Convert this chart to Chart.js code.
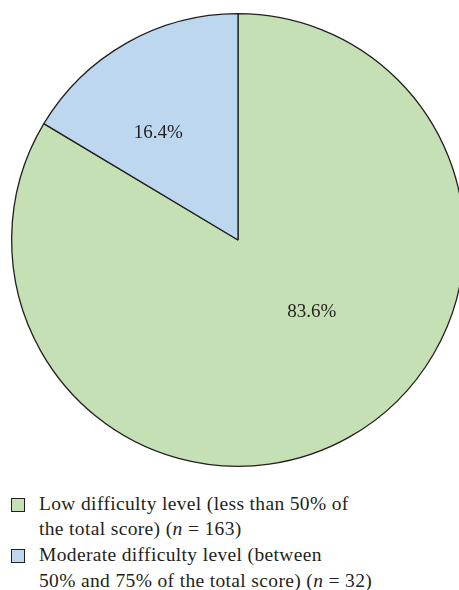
<!DOCTYPE html>
<html>
<head>
<meta charset="utf-8">
<script src="https://cdn.jsdelivr.net/npm/chart.js@4/dist/chart.umd.min.js"></script>
<style>
  html, body { margin: 0; padding: 0; background: #fff; overflow: hidden; width: 459px; height: 590px; }
  #wrap { position: absolute; left: 0; top: 0; width: 476px; height: 480px; }
  #legend { position: absolute; left: 11px; top: 490.5px; font-family: "Liberation Serif", "DejaVu Serif", serif; font-size: 19.5px; letter-spacing: 0.35px; line-height: 25.7px; color: #231f20; }
  .item { position: relative; padding-left: 28px; white-space: pre-line; }
  .box { position: absolute; left: 0; top: 7.5px; width: 12px; height: 12px; border: 1px solid #231f20; }
</style>
</head>
<body>
<div id="wrap"><canvas id="c"></canvas></div>
<div id="legend"></div>
<script>
const categories = [
  "Low difficulty level (less than 50% of\nthe total score)",
  "Moderate difficulty level (between\n50% and 75% of the total score)"
];
const counts = [163, 32];
const percentLabels = ["83.6%", "16.4%"];
const colors = ["#c5e0b4", "#bdd7ee"];

// label placement as fraction of the outer radius (style, not data)
const labelOffsets = [[0.326, 0.315], [-0.352, -0.476]];

const sliceLabels = {
  id: 'sliceLabels',
  afterDatasetsDraw(chart) {
    const ctx = chart.ctx;
    const meta = chart.getDatasetMeta(0);
    ctx.save();
    ctx.font = '19px "Liberation Serif", "DejaVu Serif", serif';
    ctx.fillStyle = '#231f20';
    ctx.textAlign = 'center';
    ctx.textBaseline = 'alphabetic';
    meta.data.forEach((arc, i) => {
      const r = arc.outerRadius;
      const x = arc.x + labelOffsets[i][0] * r;
      const y = arc.y + labelOffsets[i][1] * r + 6;
      ctx.fillText(percentLabels[i], x, y);
    });
    ctx.restore();
  }
};

const chart = new Chart(document.getElementById('c'), {
  type: 'pie',
  data: {
    labels: categories,
    datasets: [{
      data: counts,
      backgroundColor: colors,
      borderColor: '#231f20',
      borderWidth: 1.3
    }]
  },
  options: {
    responsive: true,
    maintainAspectRatio: false,
    animation: false,
    layout: { padding: { top: 13, bottom: 13, left: 11, right: 11 } },
    plugins: { legend: { display: false }, tooltip: { enabled: false } }
  },
  plugins: [sliceLabels]
});

const legend = document.getElementById('legend');
categories.forEach((cat, i) => {
  const item = document.createElement('div');
  item.className = 'item';
  const box = document.createElement('span');
  box.className = 'box';
  box.style.background = colors[i];
  item.appendChild(box);
  const text = document.createElement('span');
  text.innerHTML = cat + ' (<i>n</i> = ' + counts[i] + ')';
  item.appendChild(text);
  legend.appendChild(item);
});
</script>
</body>
</html>
